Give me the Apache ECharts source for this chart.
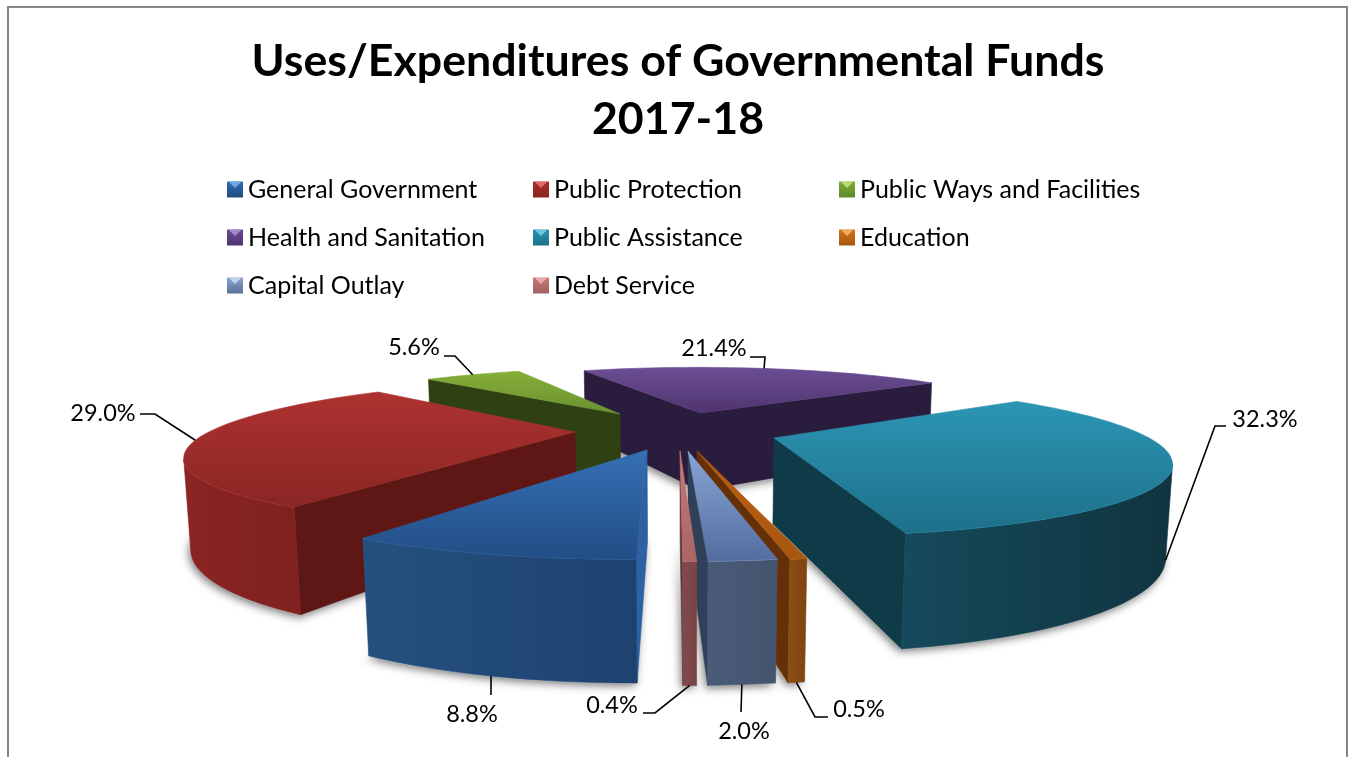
<!DOCTYPE html>
<html>
<head>
<meta charset="utf-8">
<style>html,body{margin:0;padding:0;background:#fff}#c{width:1349px;height:757px}</style>
<script src="https://cdn.jsdelivr.net/npm/echarts@6/dist/echarts.min.js"></script>
</head>
<body>
<div id="c"></div>
<script>
var categories = ['General Government','Public Protection','Public Ways and Facilities','Health and Sanitation','Public Assistance','Education','Capital Outlay','Debt Service'];
var percentValues = [8.8, 29.0, 5.6, 21.4, 32.3, 0.5, 2.0, 0.4];
var titleText = 'Uses/Expenditures of Governmental Funds\n2017-18';

// view and styling (not data)
var view = {cx:690, cy:448, R:390, D:1320, sinP:0.195, H:92, startDeg:-0.7};
view.cosP = Math.sqrt(1-view.sinP*view.sinP);
var drawOrder = [3,2,4,1,5,6,7,0];
var apexOnScreen = [[647,450],[575,432],[620,414],[700,413],[774,438],[697,451],[688,451],[680,451]];
var topColors = [['#3570b5','#224e85'],['#ae3230','#8a2624'],['#86ae38','#6a9230'],['#6b4e94','#4f346f'],['#2b96b5','#1e7089'],['#b8600f','#a8560f'],['#89a5d6','#536e9e'],['#c47a7a','#ab6565']];
var rimColors = [['#24507f','#1e4270'],['#8a2523','#7e211f'],['#5f8a2b','#5f8a2b'],['#4a3268','#4a3268'],['#164a5c','#10343f'],['#8c4e14','#7f4410'],['#4a5b78','#44546e'],['#81494b','#7a4445']];
var wallColors = [['#2c62a4','#1d3f6b'],['#5e1714','#5e1714'],['#2f4012','#2f4012'],['#2a1c3c','#2a1c3c'],['#0f3a47','#0f3a47'],['#653008','#653008'],['#2f4058','#2f4058'],['#7a4445','#5e3536']];
var rimEdge = ['#3a6cab','#b8423f','#8fb84a','#7d5fa8','#2f9ab8','#d07a20','#8aa0c8','#c88484'];
var legendCols = [227,533,839], legendRows = [177,225,273];
var legendSlots = [[0,0],[1,0],[2,0],[0,1],[1,1],[2,1],[0,2],[1,2]];
var legendColors = [['#2f6cb0','#1f4a80'],['#a82e2c','#8a2523'],['#7fa735','#5f8a2b'],['#6a4c92','#4f346f'],['#2a93b2','#1e7089'],['#d0741a','#a8560f'],['#8aa3d0','#5a7098'],['#c47a7a','#a35f5f']];
var legendLight = ['#6fa8e8','#e06a68','#b8dc70','#a588d0','#6cc8e4','#f4a860','#c0d4f2','#eaaaaa'];
// label layout: text anchor, text align, elbow point, anchor height on the rim (0 top, 1 bottom)
var labelLayout = [
 {t:[472,714],a:'center',el:[491,695],z:1},
 {t:[103,413],a:'center',el:[[140,414],[155,414]],z:0},
 {t:[414,347],a:'center',el:[[444,356],[455,356]],z:0},
 {t:[714,348],a:'center',el:[[750,357],[765,357]],z:0},
 {t:[1265,419],a:'center',el:[[1226,426],[1215,426]],z:1},
 {t:[859,709],a:'center',el:[[828,717],[815,717]],z:1},
 {t:[744,731],a:'center',el:[741,712],z:1},
 {t:[612,705],a:'center',el:[[643,713],[655,713]],z:1}
];

function proj(X,Y,z){
  var c=Y*view.cosP+z*view.sinP, s=view.D/(view.D-c);
  return [view.cx+X*s, view.cy+(Y*view.sinP-z*view.cosP)*s];
}
function ground(p){
  var v=p[1]-view.cy, Y=v*view.D/(view.sinP*view.D+v*view.cosP), s=view.D/(view.D-Y*view.cosP);
  return [(p[0]-view.cx)/s, Y];
}
var total = percentValues.reduce(function(a,b){return a+b;},0);
var angles = (function(){
  var a=view.startDeg, out=[];
  percentValues.forEach(function(v){var b=a+v/total*360; out.push([a,b]); a=b;});
  return out;
})();
function rimPoint(i,deg,z){
  var g=ground(apexOnScreen[i]), t=deg*Math.PI/180;
  return proj(g[0]-view.R*Math.sin(t), g[1]+view.R*Math.cos(t), z);
}
function arcPts(i,z){
  var a=angles[i][0], b=angles[i][1], n=Math.max(2,Math.ceil((b-a)/2)), out=[];
  for(var k=0;k<=n;k++) out.push(rimPoint(i,a+(b-a)*k/n,z));
  return out;
}
function area(p){
  var s=0; for(var k=0;k<p.length;k++){var q=p[(k+1)%p.length]; s+=p[k][0]*q[1]-q[0]*p[k][1];} return s;
}
function apexPt(i,z){var g=ground(apexOnScreen[i]); return proj(g[0],g[1],z);}
function grad(c,horizontal){
  return new echarts.graphic.LinearGradient(0,0,horizontal?1:0,horizontal?0:1,[{offset:0,color:c[0]},{offset:1,color:c[1]}]);
}
function poly(points,fill,extra){
  return {type:'polygon',shape:{points:points},style:Object.assign({fill:fill,stroke:fill,lineWidth:0.6},extra||{}),silent:true};
}
function renderSlice(i){
  var children=[], H=view.H;
  var topArc=arcPts(i,0), botArc=arcPts(i,-H), a0=apexPt(i,0), a1=apexPt(i,-H);
  var start=[a0,topArc[0],botArc[0],a1];
  if(area(start)<0) children.push(poly(start,wallColors[i][0]));
  var last=topArc.length-1, end=[topArc[last],a0,a1,botArc[last]];
  if(area(end)<0) children.push(poly(end,wallColors[i][1]));
  var from=-1,to=-1;
  for(var k=0;k<last;k++){
    if(area([topArc[k],topArc[k+1],botArc[k+1],botArc[k]])<0){ if(from<0)from=k; to=k+1; }
  }
  if(from>=0){
    var t=topArc.slice(from,to+1), b=botArc.slice(from,to+1).reverse();
    children.push(poly(t.concat(b),grad(rimColors[i],true)));
    children.push({type:'polyline',shape:{points:t},style:{fill:'none',stroke:rimEdge[i],lineWidth:1.4},silent:true});
  }
  children.push(poly([a0].concat(topArc),grad(topColors[i],false)));
  return {type:'group',children:children};
}
function renderShadows(params,api){
  var children=[];
  percentValues.forEach(function(v,i){
    var pts=[apexPt(i,-view.H)].concat(arcPts(i,-view.H)).map(function(p){return [p[0],p[1]+1];});
    children.push({type:'polygon',shape:{points:pts},style:{fill:'#b8b8b8',shadowBlur:9,shadowColor:'rgba(80,80,80,0.75)',shadowOffsetX:-2,shadowOffsetY:2},silent:true});
  });
  return {type:'group',children:children};
}
function renderLabels(){
  var children=[];
  percentValues.forEach(function(v,i){
    var L=labelLayout[i], mid=(angles[i][0]+angles[i][1])/2;
    var anchor=rimPoint(i,mid,L.z?-view.H:0);
    var pts=(Array.isArray(L.el[0])?L.el:[L.el]).concat([anchor]);
    children.push({type:'polyline',shape:{points:pts},style:{fill:'none',stroke:'#000',lineWidth:1.6},silent:true});
    children.push({type:'text',style:{x:L.t[0],y:L.t[1],text:v.toFixed(1)+'%',fill:'#000',font:'23.5px Lato',textAlign:L.a,textVerticalAlign:'middle'},silent:true});
  });
  return {type:'group',children:children};
}
var series=[{type:'custom',name:'__shadow',coordinateSystem:'none',z:1,silent:true,data:[[0]],renderItem:renderShadows,animation:false}];
drawOrder.forEach(function(i,order){
  series.push({type:'custom',name:categories[i],coordinateSystem:'none',z:2+order,silent:true,animation:false,
    itemStyle:{color:grad(legendColors[i],false)},data:[[percentValues[i]]],
    renderItem:function(){return renderSlice(i);}});
});
series.push({type:'custom',name:'__labels',coordinateSystem:'none',z:20,silent:true,data:[[0]],renderItem:renderLabels,animation:false});

var legends=categories.map(function(name,i){
  var s=legendSlots[i];
  return {data:[name],left:legendCols[s[0]],top:legendRows[s[1]],padding:0,itemWidth:16,itemHeight:16,icon:'rect',selectedMode:false,
    itemGap:6,textStyle:{fontFamily:'Lato',fontSize:25,color:'#000',lineHeight:16}};
});
var graphics=[
 {type:'polyline',shape:{points:[[8,757],[8,7],[1347,7],[1347,757]]},style:{fill:'none',stroke:'#868686',lineWidth:2},silent:true}
];
categories.forEach(function(name,i){
  var s=legendSlots[i], x=legendCols[s[0]], y=legendRows[s[1]]+3;
  graphics.push({type:'polygon',shape:{points:[[x+2,y+2],[x+14,y+2],[x+8,y+8]]},style:{fill:legendLight[i]},silent:true,z:30});
});
var chart=echarts.init(document.getElementById('c'),null,{renderer:'canvas'});
chart.setOption({
  backgroundColor:'#fff',animation:false,
  title:{text:titleText,left:673,top:28,textAlign:'center',textStyle:{fontFamily:'Lato',fontWeight:'bold',fontSize:44.7,lineHeight:58,color:'#000'}},
  legend:legends,
  series:series,
  graphic:graphics
});
</script>
</body>
</html>
